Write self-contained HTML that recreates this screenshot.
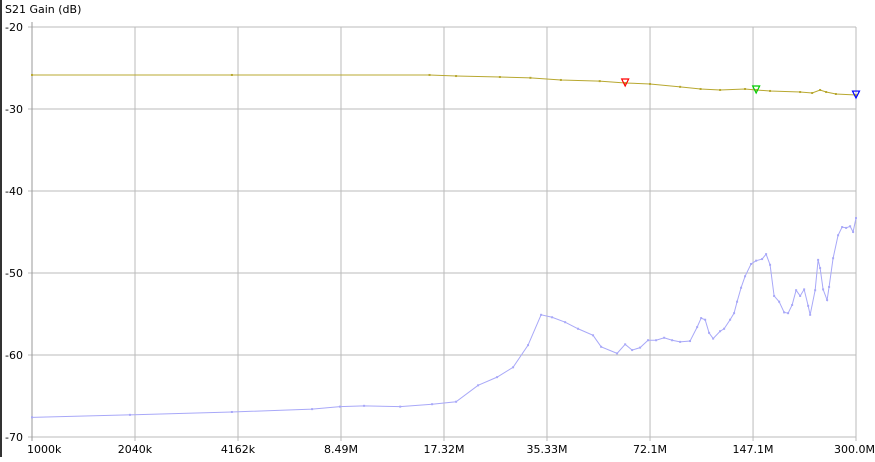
<!DOCTYPE html>
<html><head><meta charset="utf-8"><style>
body{margin:0;background:#fff;font-family:"Liberation Sans","DejaVu Sans",sans-serif}
svg text{font-family:"DejaVu Sans","Liberation Sans",sans-serif;font-size:11px;fill:#000}
</style></head><body>
<svg id="chart" width="875" height="457" viewBox="0 0 875 457">
<rect x="0" y="0" width="2" height="457" fill="#333"/>
<text x="5" y="13">S21 Gain (dB)</text>
<g id="grid"></g><g id="series"></g><g id="markers"></g>
</svg>
<script>
const xTickFreqs=[1,2.04,4.162,8.49,17.32,35.33,72.1,147.1,300];
const xTickLabels=["1000k","2040k","4162k","8.49M","17.32M","35.33M","72.1M","147.1M","300.0M"];
const yTicks=[-20,-30,-40,-50,-60,-70];
const s1Freq=[1,3.99,15.67,18.83,25.5,31.5,38.9,50.9,60.7,72.1,88.8,102.3,117.1,139.2,150.3,165.5,203.8,221.5,234,244,261,300];
const s1Gain=[-25.85,-25.85,-25.85,-25.98,-26.1,-26.2,-26.46,-26.6,-26.83,-26.95,-27.3,-27.56,-27.68,-27.56,-27.68,-27.8,-27.93,-28.05,-27.68,-27.93,-28.17,-28.3];
const s2Freq=[1,1.97,3.99,6.95,8.43,9.96,12.79,15.95,18.83,21.93,25.01,27.94,30.99,33.92,36.6,40.06,43.8,48.6,51.4,57.4,60.7,63.7,67.3,71.1,75.2,79.5,84.0,88.8,95.1,99.9,102.7,105.6,108.5,111.6,117.1,120.4,125.5,129.0,131.7,135.4,139.2,145.1,150.3,156.6,161.0,165.5,170.2,176.2,182.4,187.5,192.8,198.2,203.8,209.5,215.4,218.4,226.1,230.8,234.0,238.9,245.6,249.0,256.0,265.0,272.5,280.2,288.0,294.0,300.0];
const s2Gain=[-67.6,-67.3,-66.95,-66.6,-66.3,-66.2,-66.3,-66.0,-65.7,-63.7,-62.7,-61.5,-58.8,-55.1,-55.4,-56.0,-56.8,-57.6,-59.0,-59.8,-58.7,-59.4,-59.1,-58.2,-58.2,-57.9,-58.2,-58.4,-58.3,-56.6,-55.5,-55.7,-57.3,-58.0,-57.1,-56.8,-55.7,-54.9,-53.5,-51.8,-50.4,-48.9,-48.5,-48.3,-47.7,-49.0,-52.8,-53.5,-54.8,-54.9,-53.9,-52.1,-52.8,-52.0,-54.0,-55.1,-52.1,-48.4,-49.4,-52.0,-53.3,-51.7,-48.2,-45.4,-44.4,-44.5,-44.3,-45.0,-43.3];
const markerFreqs=[60.7,150.3,300];
const markerColors=["#f00","#0c0","#00f"];
const X0=32,X1=856,Y0=27,Y1=437;
const fx=f=>X0+(Math.log10(f)-Math.log10(1))/(Math.log10(300))*(X1-X0);
const fy=v=>Y0+(-20-v)/50*(Y1-Y0);
const NS="http://www.w3.org/2000/svg";
function mk(t,a,p){const e=document.createElementNS(NS,t);for(const k in a)e.setAttribute(k,a[k]);p.appendChild(e);return e;}
const grid=document.getElementById('grid'),ser=document.getElementById('series'),mg=document.getElementById('markers');
yTicks.forEach(v=>{
 const l=mk('line',{x1:X0-4,x2:X1,y1:fy(v),y2:fy(v),stroke:'#bbb','stroke-width':1},grid);
 
 
 const t=mk('text',{x:5,y:fy(v)+4},grid);t.textContent=String(v);
 
 
});
xTickFreqs.forEach((f,i)=>{
 const l=mk('line',{x1:fx(f),x2:fx(f),y1:Y0,y2:Y1+4,stroke:'#bbb','stroke-width':1},grid);
 
 
 const t=mk('text',{x:fx(f),y:453,'text-anchor':'middle'},grid);t.textContent=xTickLabels[i];
 if(i==0){t.setAttribute('text-anchor','start');t.setAttribute('x',fx(f)-5);}
 if(i==xTickFreqs.length-1){t.setAttribute('text-anchor','end');t.setAttribute('x',875);}
 
 
});
const ax=mk('line',{x1:X0,x2:X0,y1:Y0-5,y2:Y1+4,stroke:'#999','stroke-width':1},grid);


function series(F,G,col,name){
 const p=mk('polyline',{points:F.map((f,i)=>fx(f)+','+fy(G[i])).join(' '),fill:'none',stroke:col,'stroke-width':1},ser);
 
 
 F.forEach((f,i)=>{const d=mk('rect',{x:fx(f)-1,y:fy(G[i])-1,width:2,height:2,fill:col},ser);
  
  });
}
series(s2Freq,s2Gain,'#a8a8f8','s12-series');
series(s1Freq,s1Gain,'#b8a830','s21-series');
function interp(f){const lf=Math.log10(f);for(let i=1;i<s1Freq.length;i++){if(f<=s1Freq[i]){const a=Math.log10(s1Freq[i-1]),b=Math.log10(s1Freq[i]);const t=(lf-a)/(b-a);return s1Gain[i-1]+t*(s1Gain[i]-s1Gain[i-1]);}}return s1Gain[s1Gain.length-1];}
markerFreqs.forEach((f,i)=>{const x=fx(f),y=fy(interp(f));
 const m=mk('path',{d:`M${x-3.5},${y-4} L${x+3.5},${y-4} L${x},${y+3} Z`,fill:'none',stroke:markerColors[i],'stroke-width':1.2},mg);
 
 
});
</script>
</body></html>
